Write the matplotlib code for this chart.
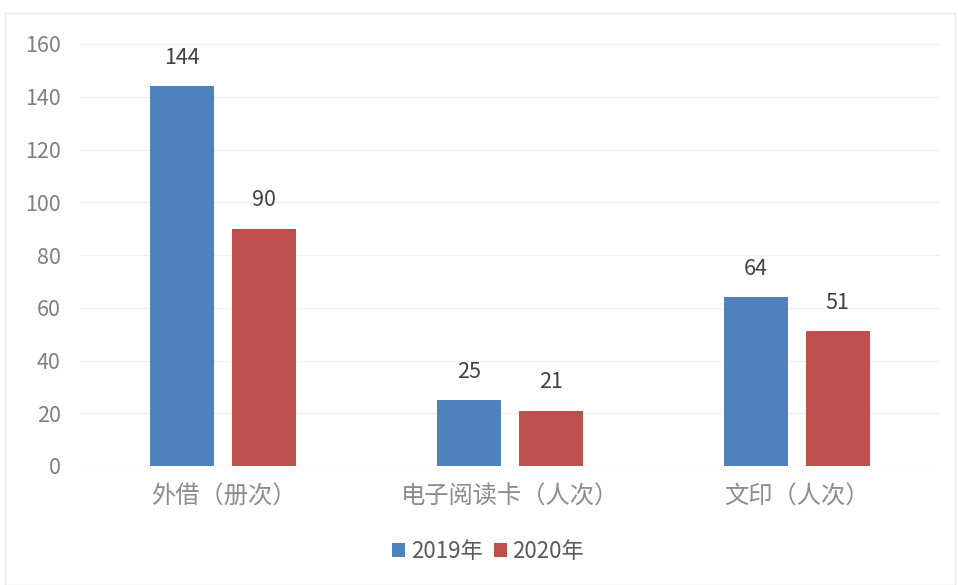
import matplotlib
matplotlib.use("Agg")
import matplotlib.pyplot as plt
import numpy as np
from matplotlib.patches import Rectangle

plt.rcParams['font.family'] = ['Noto Sans CJK SC', 'DejaVu Sans']

categories = ['外借（册次）', '电子阅读卡（人次）', '文印（人次）']
series_names = ['2019年', '2020年']
values_2019 = [144, 25, 64]
values_2020 = [90, 21, 51]
colors = ['#4F81BD', '#C0504D']

fig = plt.figure(figsize=(9.58, 5.85), dpi=100)
ax = fig.add_axes([80 / 958, 1 - 466 / 585, 860 / 958, 422 / 585])

# chart area border
fig.patches.append(Rectangle((5 / 958, 0.0), 950 / 958, 1 - 13 / 585,
                             transform=fig.transFigure, fill=False,
                             edgecolor='#e8e8e8', linewidth=1))

x = np.arange(len(categories))
w = 0.223
off = 0.143
for vals, name, c, o in zip([values_2019, values_2020], series_names, colors, [-off, off]):
    bars = ax.bar(x + o, vals, width=w, color=c, label=name, zorder=3)
    for b, v in zip(bars, vals):
        ax.text(b.get_x() + b.get_width() / 2, v + 6.5, str(v),
                ha='center', va='bottom', fontsize=15.5, color='#404040')

ax.set_xlim(-0.5, 2.5)
ax.set_ylim(0, 160)
ax.set_yticks(range(0, 161, 20))
ax.set_xticks(x)
ax.set_xticklabels(categories, fontsize=17.5, color='#8c8c8c', fontweight='light')
ax.tick_params(axis='y', labelsize=15.5, labelcolor='#7f7f7f', length=0, pad=14)
ax.tick_params(axis='x', length=0, pad=13)
ax.grid(axis='y', color='#f0f0f0', linewidth=1, zorder=0)
for s in ax.spines.values():
    s.set_visible(False)
ax.axhline(0, color='#f0f0f0', linewidth=1, zorder=1)

fig.legend(loc='center', bbox_to_anchor=(488 / 958, 1 - 551 / 585), ncol=2,
           frameon=False, fontsize=16, handlelength=0.6, handleheight=0.6,
           handletextpad=0.25, columnspacing=0.5, labelcolor='#595959')

fig.savefig('out.png', dpi=100)
